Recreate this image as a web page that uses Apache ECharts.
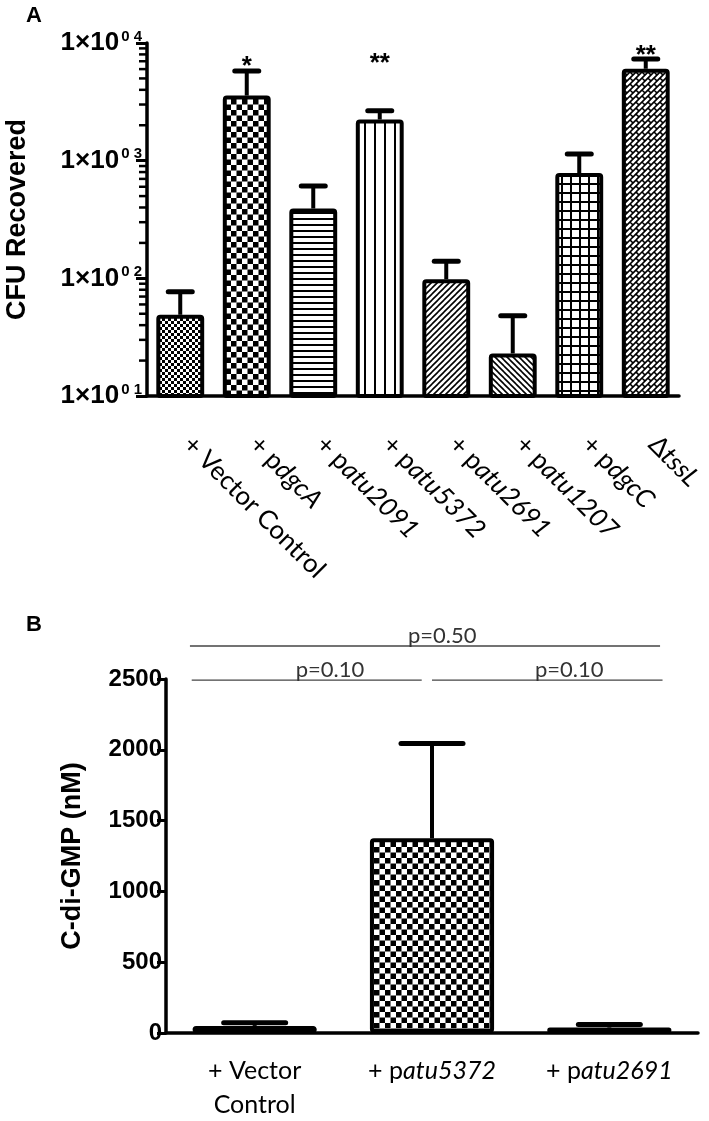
<!DOCTYPE html>
<html><head><meta charset="utf-8">
<script src="https://cdn.jsdelivr.net/npm/echarts@6/dist/echarts.min.js"></script>
<style>html,body{margin:0;padding:0;background:#fff}#c{width:709px;height:1121px}</style>
</head><body><div id="c"></div>
<script>
// ---------- Panel A data ----------
const cfuPrefix = ['+ Vector Control', '+ p', '+ p', '+ p', '+ p', '+ p', '+ p', 'Δ'];
const cfuGene = ['', 'dgcA', 'atu2091', 'atu5372', 'atu2691', 'atu1207', 'dgcC', 'tssL'];
const cfuCategories = cfuPrefix.map((p, i) => p + cfuGene[i]);
const cfuMean = [49, 3575, 392, 2235, 98, 23, 785, 6040];
const cfuSem = [28, 2195, 216, 420, 42, 25, 353, 1260];
const cfuStars = ['', '*', '', '**', '', '', '', '**'];
const cfuStarLevel = [null, 6300, null, 6600, null, null, null, 7800];
const cfuTickSup = ['0 1', '0 2', '0 3', '0 4'];

// ---------- Panel B data ----------
const gmpPrefix = ['+ Vector\nControl', '+ p', '+ p'];
const gmpGene = ['', 'atu5372', 'atu2691'];
const gmpCategories = gmpPrefix.map((p, i) => p + gmpGene[i]);
const gmpMean = [50, 1375, 38];
const gmpSem = [22, 670, 22];
const pLabels = ['p=0.50', 'p=0.10', 'p=0.10'];
const pLevel = [2733, 2492, 2492];
const pFrom = [-0.365, -0.355, 1.0];
const pTo = [2.286, 0.942, 2.30];
const pTextAt = [1.058, 0.425, 1.774];

// ---------- fill patterns ----------
function tile(w, h, draw) {
  const c = document.createElement('canvas');
  c.width = w; c.height = h;
  const g = c.getContext('2d');
  g.fillStyle = '#fff'; g.fillRect(0, 0, w, h);
  g.fillStyle = '#000'; g.strokeStyle = '#000';
  draw(g, w, h);
  return c;
}
function wrapSeg(g, w, h, x1, y1, x2, y2) {
  for (let dx = -w; dx <= w; dx += w) for (let dy = -h; dy <= h; dy += h) {
    g.moveTo(x1 + dx, y1 + dy); g.lineTo(x2 + dx, y2 + dy);
  }
}
const pat = {
  fineChecker: tile(6, 6, g => { g.fillRect(0, 0, 3, 3); g.fillRect(3, 3, 3, 3); }),
  checker: tile(11, 11, g => { g.fillRect(0, 0, 5.5, 5.5); g.fillRect(5.5, 5.5, 5.5, 5.5); }),
  hlines: tile(6, 6, g => g.fillRect(0, 2, 6, 2)),
  vlines: tile(10, 10, g => g.fillRect(4, 0, 2, 10)),
  diagR: tile(6, 6, (g, w, h) => { g.lineWidth = 1.6; g.beginPath(); wrapSeg(g, w, h, 0, 6, 6, 0); g.stroke(); }),
  diagL: tile(6, 6, (g, w, h) => { g.lineWidth = 1.6; g.beginPath(); wrapSeg(g, w, h, 0, 0, 6, 6); g.stroke(); }),
  grid: tile(9, 9, g => { g.fillRect(0, 3, 9, 2); g.fillRect(3, 0, 2, 9); }),
  herring: tile(12, 12, (g, w, h) => {
    g.lineWidth = 1.6; g.beginPath();
    [0, 6, 12, 18, 24].forEach(c => wrapSeg(g, w, h, c - 12, 12, c, 0));
    wrapSeg(g, w, h, 0, 0, 3, 3); wrapSeg(g, w, h, 6, 6, 9, 9);
    wrapSeg(g, w, h, 6, 0, 9, 3); wrapSeg(g, w, h, 0, 6, 3, 9);
    g.stroke();
  }),
  white: tile(2, 2, () => {})
};
const cfuFill = [pat.fineChecker, pat.checker, pat.hlines, pat.vlines, pat.diagR, pat.diagL, pat.grid, pat.herring];
const gmpFill = [pat.fineChecker, pat.checker, pat.white];
const gmpBorder = [5, 4, 3];

const bold = 'Liberation Sans';
const sans = 'Lato';

// minor tick positions for the log axis (2..9 within each decade)
const logMinor = [];
[10, 100, 1000].forEach(d => { for (let m = 2; m <= 9; m++) logMinor.push(m * d); });

function errRender(capW, lw) {
  return function (params, api) {
    const i = api.value(0), m = api.value(1), e = api.value(2);
    const p0 = api.coord([i, m]), p1 = api.coord([i, m + e]);
    return {
      type: 'group', children: [
        { type: 'line', shape: { x1: p0[0], y1: p0[1], x2: p1[0], y2: p1[1] }, style: { stroke: '#000', lineWidth: lw } },
        { type: 'line', shape: { x1: p1[0] - capW / 2, y1: p1[1], x2: p1[0] + capW / 2, y2: p1[1] }, style: { stroke: '#000', lineWidth: lw + 1, lineCap: 'round' } }
      ]
    };
  };
}

const chart = echarts.init(document.getElementById('c'), null, { renderer: 'canvas' });
chart.setOption({
  animation: false,
  backgroundColor: '#fff',
  grid: [
    { left: 147, top: 43, width: 532, height: 353, outerBoundsMode: 'none' },
    { left: 166, top: 679, width: 532, height: 354, outerBoundsMode: 'none' }
  ],
  xAxis: [
    {
      type: 'category', gridIndex: 0, data: cfuCategories,
      axisLine: { lineStyle: { color: '#000', width: 3.5 } },
      axisTick: { alignWithLabel: true, length: 10, lineStyle: { color: '#000', width: 3 } },
      axisLabel: {
        interval: 0, rotate: -45, margin: 37,
        formatter: (v, i) => '{n|' + cfuPrefix[i] + '}' + (cfuGene[i] ? '{i|' + cfuGene[i] + '}' : ''),
        rich: {
          n: { fontFamily: sans, fontSize: 26, color: '#000', padding: [0, 0, 0, 10] },
          i: { fontFamily: sans, fontSize: 26, fontStyle: 'italic', color: '#000' }
        }
      },
      splitLine: { show: false }
    },
    {
      type: 'category', gridIndex: 1, data: gmpCategories,
      axisLine: { lineStyle: { color: '#000', width: 3.5 } },
      axisTick: { alignWithLabel: true, length: 12, lineStyle: { color: '#000', width: 3 } },
      axisLabel: {
        interval: 0, margin: 21,
        formatter: (v, i) => '{n|' + gmpPrefix[i] + '}' + (gmpGene[i] ? '{i|' + gmpGene[i] + '}' : ''),
        rich: {
          n: { fontFamily: sans, fontSize: 25, lineHeight: 34, color: '#000' },
          i: { fontFamily: sans, fontSize: 25, lineHeight: 34, fontStyle: 'italic', color: '#000' }
        }
      },
      splitLine: { show: false }
    }
  ],
  yAxis: [
    {
      type: 'log', gridIndex: 0, logBase: 10, min: 10, max: 10000,
      name: 'CFU Recovered', nameLocation: 'middle', nameGap: 116,
      nameTextStyle: { fontFamily: bold, fontWeight: 'bold', fontSize: 27, color: '#000' },
      axisLine: { show: true, lineStyle: { color: '#000', width: 3.5 } },
      axisTick: { show: true, length: 11, lineStyle: { color: '#000', width: 3 } },
      axisLabel: {
        margin: 5,
        formatter: v => '{b|1×10}{s|' + cfuTickSup[Math.round(Math.log10(v)) - 1] + '}',
        rich: {
          b: { fontFamily: bold, fontWeight: 'bold', fontSize: 26, color: '#000', lineHeight: 28 },
          s: { fontFamily: bold, fontWeight: 'bold', fontSize: 15, color: '#000', verticalAlign: 'top', lineHeight: 28, padding: [0, 0, 12, 2] }
        }
      },
      splitLine: { show: false }
    },
    {
      type: 'value', gridIndex: 1, min: 0, max: 2500, interval: 500,
      name: 'C-di-GMP (nM)', nameLocation: 'middle', nameGap: 80,
      nameTextStyle: { fontFamily: bold, fontWeight: 'bold', fontSize: 27, color: '#000' },
      axisLine: { show: true, lineStyle: { color: '#000', width: 3.5 } },
      axisTick: { show: true, length: 9, lineStyle: { color: '#000', width: 3 } },
      axisLabel: { margin: 4, fontFamily: bold, fontWeight: 'bold', fontSize: 24, color: '#000', formatter: v => String(v) },
      splitLine: { show: false }
    }
  ],
  series: [
    {
      type: 'bar', xAxisIndex: 0, yAxisIndex: 0, barWidth: '72%', silent: true,
      itemStyle: { borderColor: '#000', borderWidth: 4, borderRadius: 2 },
      data: cfuMean.map((v, i) => ({ value: v, itemStyle: { color: { image: cfuFill[i], repeat: 'repeat' } } }))
    },
    {
      type: 'custom', xAxisIndex: 0, yAxisIndex: 0, silent: true, z: 3, clip: false,
      renderItem: errRender(24, 4),
      data: cfuMean.map((v, i) => [i, v, cfuSem[i]])
    },
    {
      type: 'custom', xAxisIndex: 0, yAxisIndex: 0, silent: true, z: 3, clip: false,
      renderItem: function (params, api) {
        const i = api.value(0);
        const p = api.coord([i, api.value(1)]);
        return {
          type: 'text', x: p[0], y: p[1],
          style: { text: cfuStars[i], fontSize: 26, fontWeight: 'bold', fontFamily: bold, fill: '#000', align: 'center', verticalAlign: 'middle', textAlign: 'center', textVerticalAlign: 'middle' }
        };
      },
      data: cfuStars.map((s, i) => [i, cfuStarLevel[i]]).filter(d => d[1] !== null)
    },
    {
      type: 'bar', xAxisIndex: 1, yAxisIndex: 1, barWidth: '70%', silent: true,
      data: gmpMean.map((v, i) => ({ value: v, itemStyle: { color: { image: gmpFill[i], repeat: 'repeat' }, borderColor: '#000', borderWidth: gmpBorder[i], borderRadius: 2 } }))
    },
    {
      type: 'custom', xAxisIndex: 1, yAxisIndex: 1, silent: true, z: 3, clip: false,
      renderItem: errRender(62, 4),
      data: gmpMean.map((v, i) => [i, v, gmpSem[i]])
    },
    {
      type: 'custom', xAxisIndex: 1, yAxisIndex: 1, silent: true, z: 3, clip: false,
      renderItem: function (params, api) {
        const k = params.dataIndex;
        const band = api.size([1, 0])[0];
        const base = api.coord([0, pLevel[k]]);
        const x0 = base[0] + pFrom[k] * band, x1 = base[0] + pTo[k] * band, xt = base[0] + pTextAt[k] * band;
        return {
          type: 'group', children: [
            { type: 'line', shape: { x1: x0, y1: base[1], x2: x1, y2: base[1] }, style: { stroke: '#444', lineWidth: 1.3 } },
            { type: 'text', x: xt, y: base[1] + 1, style: { text: pLabels[k], fontSize: 22, fontFamily: sans, fill: '#333', align: 'center', verticalAlign: 'bottom', textAlign: 'center', textVerticalAlign: 'bottom' } }
          ]
        };
      },
      data: pLabels.map((s, k) => [0, pLevel[k]])
    }
  ]
});

// panel letters and log-axis minor ticks, placed with the chart's own coordinate conversion
const c0 = chart.convertToPixel({ xAxisIndex: 0, yAxisIndex: 0 }, [0, 10]);
const c1 = chart.convertToPixel({ xAxisIndex: 0, yAxisIndex: 0 }, [1, 10]);
const axisX = c0[0] - (c1[0] - c0[0]) / 2;
const extra = [
  { type: 'text', x: 26, y: 5, silent: true, z: 10, style: { text: 'A', fontSize: 22, fontWeight: 'bold', fontFamily: bold, fill: '#000' } },
  { type: 'text', x: 26, y: 614, silent: true, z: 10, style: { text: 'B', fontSize: 22, fontWeight: 'bold', fontFamily: bold, fill: '#000' } }
];
logMinor.forEach(v => {
  const y = chart.convertToPixel({ xAxisIndex: 0, yAxisIndex: 0 }, [0, v])[1];
  extra.push({ type: 'rect', silent: true, z: 10, shape: { x: axisX - 8, y: y - 1.25, width: 8, height: 2.5 }, style: { fill: '#000' } });
});
chart.setOption({ graphic: extra });
</script></body></html>
